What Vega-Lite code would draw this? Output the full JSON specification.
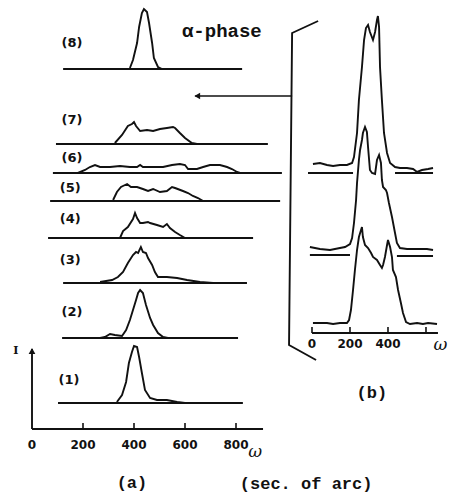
{
  "$schema": "https://vega.github.io/schema/vega-lite/v6.json",
  "width": 449,
  "height": 495,
  "autosize": "none",
  "padding": 0,
  "background": "white",
  "config": {"view": {"stroke": null}},
  "datasets": {
    "curvesA": [
      {"c":"8","w":384,"I":361},{"c":"8","w":396,"I":369},{"c":"8","w":412,"I":386},{"c":"8","w":420,"I":402},{"c":"8","w":431,"I":416},{"c":"8","w":439,"I":420},{"c":"8","w":451,"I":417},{"c":"8","w":459,"I":406},{"c":"8","w":471,"I":386},{"c":"8","w":478,"I":371},{"c":"8","w":494,"I":362},{"c":"8","w":510,"I":360},
      {"c":"7","w":325,"I":286},{"c":"7","w":353,"I":294},{"c":"7","w":376,"I":303},{"c":"7","w":392,"I":305},{"c":"7","w":400,"I":307},{"c":"7","w":408,"I":303},{"c":"7","w":424,"I":298},{"c":"7","w":451,"I":299},{"c":"7","w":475,"I":298},{"c":"7","w":502,"I":300},{"c":"7","w":529,"I":301},{"c":"7","w":553,"I":302},{"c":"7","w":561,"I":301},{"c":"7","w":580,"I":296},{"c":"7","w":600,"I":291},{"c":"7","w":627,"I":286},{"c":"7","w":647,"I":285},
      {"c":"6","w":180,"I":256},{"c":"6","w":208,"I":259},{"c":"6","w":227,"I":262},{"c":"6","w":247,"I":264},{"c":"6","w":267,"I":262},{"c":"6","w":306,"I":262},{"c":"6","w":345,"I":263},{"c":"6","w":384,"I":262},{"c":"6","w":412,"I":262},{"c":"6","w":424,"I":264},{"c":"6","w":435,"I":262},{"c":"6","w":475,"I":262},{"c":"6","w":514,"I":262},{"c":"6","w":549,"I":264},{"c":"6","w":580,"I":265},{"c":"6","w":600,"I":264},{"c":"6","w":612,"I":260},{"c":"6","w":647,"I":260},{"c":"6","w":671,"I":262},{"c":"6","w":698,"I":264},{"c":"6","w":737,"I":264},{"c":"6","w":765,"I":262},{"c":"6","w":784,"I":260},{"c":"6","w":804,"I":257},{"c":"6","w":816,"I":256},
      {"c":"5","w":318,"I":229},{"c":"5","w":333,"I":237},{"c":"5","w":349,"I":242},{"c":"5","w":373,"I":245},{"c":"5","w":388,"I":242},{"c":"5","w":412,"I":242},{"c":"5","w":435,"I":240},{"c":"5","w":455,"I":238},{"c":"5","w":475,"I":240},{"c":"5","w":502,"I":237},{"c":"5","w":529,"I":238},{"c":"5","w":549,"I":242},{"c":"5","w":561,"I":241},{"c":"5","w":592,"I":238},{"c":"5","w":612,"I":236},{"c":"5","w":631,"I":233},{"c":"5","w":651,"I":231},{"c":"5","w":671,"I":228},
      {"c":"4","w":345,"I":191},{"c":"4","w":357,"I":198},{"c":"4","w":376,"I":202},{"c":"4","w":396,"I":210},{"c":"4","w":404,"I":216},{"c":"4","w":412,"I":211},{"c":"4","w":424,"I":206},{"c":"4","w":435,"I":206},{"c":"4","w":455,"I":207},{"c":"4","w":463,"I":206},{"c":"4","w":490,"I":204},{"c":"4","w":514,"I":202},{"c":"4","w":529,"I":205},{"c":"4","w":541,"I":201},{"c":"4","w":561,"I":197},{"c":"4","w":580,"I":194},{"c":"4","w":600,"I":191},
      {"c":"3","w":267,"I":147},{"c":"3","w":314,"I":149},{"c":"3","w":337,"I":152},{"c":"3","w":357,"I":157},{"c":"3","w":376,"I":166},{"c":"3","w":396,"I":174},{"c":"3","w":408,"I":177},{"c":"3","w":416,"I":176},{"c":"3","w":427,"I":182},{"c":"3","w":435,"I":177},{"c":"3","w":447,"I":176},{"c":"3","w":455,"I":171},{"c":"3","w":471,"I":164},{"c":"3","w":482,"I":157},{"c":"3","w":494,"I":152},{"c":"3","w":529,"I":152},{"c":"3","w":569,"I":151},{"c":"3","w":608,"I":149},{"c":"3","w":659,"I":147},{"c":"3","w":710,"I":146},
      {"c":"2","w":267,"I":91},{"c":"2","w":286,"I":92},{"c":"2","w":306,"I":95},{"c":"2","w":325,"I":94},{"c":"2","w":353,"I":93},{"c":"2","w":369,"I":99},{"c":"2","w":384,"I":109},{"c":"2","w":396,"I":119},{"c":"2","w":408,"I":129},{"c":"2","w":416,"I":136},{"c":"2","w":424,"I":139},{"c":"2","w":435,"I":136},{"c":"2","w":447,"I":124},{"c":"2","w":463,"I":111},{"c":"2","w":475,"I":104},{"c":"2","w":494,"I":96},{"c":"2","w":514,"I":92},{"c":"2","w":533,"I":91},
      {"c":"1","w":333,"I":27},{"c":"1","w":353,"I":34},{"c":"1","w":369,"I":47},{"c":"1","w":380,"I":66},{"c":"1","w":392,"I":77},{"c":"1","w":400,"I":83},{"c":"1","w":412,"I":82},{"c":"1","w":420,"I":72},{"c":"1","w":431,"I":56},{"c":"1","w":443,"I":39},{"c":"1","w":463,"I":31},{"c":"1","w":490,"I":29},{"c":"1","w":529,"I":29},{"c":"1","w":569,"I":27},{"c":"1","w":600,"I":26}
    ],
    "baseA": [
      {"c":"8","w0":122,"w1":824,"I":360},
      {"c":"7","w0":94,"w1":925,"I":285},
      {"c":"6","w0":82,"w1":980,"I":256},
      {"c":"5","w0":71,"w1":973,"I":228},
      {"c":"4","w0":63,"w1":867,"I":191},
      {"c":"3","w0":122,"w1":843,"I":146},
      {"c":"2","w0":118,"w1":808,"I":91},
      {"c":"1","w0":102,"w1":827,"I":26},
      {"c":"axis","w0":0,"w1":906,"I":0}
    ],
    "labelsA": [
      {"t":"(8)","w":157,"I":386},
      {"t":"(7)","w":157,"I":309},
      {"t":"(6)","w":157,"I":271},
      {"t":"(5)","w":150,"I":241},
      {"t":"(4)","w":150,"I":210},
      {"t":"(3)","w":150,"I":169},
      {"t":"(2)","w":157,"I":117},
      {"t":"(1)","w":145,"I":49}
    ],
    "ticksA": [
      {"w":0,"t":"0"},{"w":200,"t":"200"},{"w":400,"t":"400"},{"w":600,"t":"600"},{"w":800,"t":"800"}
    ],
    "bracket": [
      {"o":1,"w":1122,"I":408},{"o":2,"w":1020,"I":396},{"o":3,"w":1008,"I":84},{"o":4,"w":1114,"I":69}
    ],
    "curvesB": [
      {"c":"b1","w":5,"I":265},{"c":"b1","w":42,"I":266},{"c":"b1","w":79,"I":264},{"c":"b1","w":111,"I":263},{"c":"b1","w":147,"I":264},{"c":"b1","w":184,"I":264},{"c":"b1","w":211,"I":266},{"c":"b1","w":221,"I":272},{"c":"b1","w":237,"I":296},{"c":"b1","w":247,"I":329},{"c":"b1","w":263,"I":362},{"c":"b1","w":274,"I":389},{"c":"b1","w":284,"I":401},{"c":"b1","w":295,"I":404},{"c":"b1","w":305,"I":397},{"c":"b1","w":321,"I":389},{"c":"b1","w":332,"I":397},{"c":"b1","w":342,"I":409},{"c":"b1","w":347,"I":413},{"c":"b1","w":353,"I":402},{"c":"b1","w":358,"I":362},{"c":"b1","w":368,"I":329},{"c":"b1","w":379,"I":296},{"c":"b1","w":395,"I":276},{"c":"b1","w":411,"I":266},{"c":"b1","w":437,"I":262},{"c":"b1","w":463,"I":261},{"c":"b1","w":500,"I":261},{"c":"b1","w":532,"I":260},{"c":"b1","w":553,"I":257},{"c":"b1","w":579,"I":259},{"c":"b1","w":611,"I":260},{"c":"b1","w":637,"I":261},
      {"c":"b2","w":-11,"I":182},{"c":"b2","w":42,"I":180},{"c":"b2","w":95,"I":179},{"c":"b2","w":147,"I":181},{"c":"b2","w":174,"I":182},{"c":"b2","w":200,"I":185},{"c":"b2","w":211,"I":191},{"c":"b2","w":221,"I":206},{"c":"b2","w":232,"I":229},{"c":"b2","w":237,"I":246},{"c":"b2","w":247,"I":269},{"c":"b2","w":253,"I":279},{"c":"b2","w":263,"I":289},{"c":"b2","w":268,"I":296},{"c":"b2","w":279,"I":302},{"c":"b2","w":289,"I":297},{"c":"b2","w":295,"I":282},{"c":"b2","w":305,"I":259},{"c":"b2","w":316,"I":256},{"c":"b2","w":332,"I":255},{"c":"b2","w":342,"I":269},{"c":"b2","w":353,"I":274},{"c":"b2","w":363,"I":266},{"c":"b2","w":368,"I":249},{"c":"b2","w":374,"I":242},{"c":"b2","w":389,"I":239},{"c":"b2","w":395,"I":236},{"c":"b2","w":405,"I":226},{"c":"b2","w":421,"I":212},{"c":"b2","w":437,"I":196},{"c":"b2","w":447,"I":186},{"c":"b2","w":463,"I":181},{"c":"b2","w":500,"I":180},{"c":"b2","w":553,"I":180},{"c":"b2","w":605,"I":180},{"c":"b2","w":637,"I":179},
      {"c":"b3","w":5,"I":106},{"c":"b3","w":42,"I":106},{"c":"b3","w":79,"I":106},{"c":"b3","w":111,"I":105},{"c":"b3","w":147,"I":106},{"c":"b3","w":184,"I":106},{"c":"b3","w":195,"I":109},{"c":"b3","w":205,"I":119},{"c":"b3","w":216,"I":139},{"c":"b3","w":226,"I":159},{"c":"b3","w":237,"I":179},{"c":"b3","w":247,"I":192},{"c":"b3","w":258,"I":199},{"c":"b3","w":263,"I":202},{"c":"b3","w":268,"I":192},{"c":"b3","w":279,"I":184},{"c":"b3","w":295,"I":181},{"c":"b3","w":311,"I":176},{"c":"b3","w":321,"I":172},{"c":"b3","w":342,"I":169},{"c":"b3","w":358,"I":164},{"c":"b3","w":368,"I":161},{"c":"b3","w":374,"I":164},{"c":"b3","w":384,"I":172},{"c":"b3","w":395,"I":184},{"c":"b3","w":400,"I":189},{"c":"b3","w":411,"I":182},{"c":"b3","w":421,"I":172},{"c":"b3","w":426,"I":159},{"c":"b3","w":442,"I":152},{"c":"b3","w":453,"I":139},{"c":"b3","w":468,"I":126},{"c":"b3","w":479,"I":116},{"c":"b3","w":495,"I":107},{"c":"b3","w":516,"I":105},{"c":"b3","w":553,"I":106},{"c":"b3","w":584,"I":105},{"c":"b3","w":611,"I":106},{"c":"b3","w":658,"I":105}
    ],
    "baseB": [
      {"w0":-21,"w1":216,"I":256},
      {"w0":437,"w1":637,"I":256},
      {"w0":-11,"w1":200,"I":174},
      {"w0":447,"w1":637,"I":173},
      {"w0":0,"w1":663,"I":96}
    ],
    "ticksB": [
      {"w":0,"t":"0"},{"w":200,"t":"200"},{"w":400,"t":"400"},{"w":600,"t":""}
    ]
  },
  "layer": [
    {
      "layer": [
        {
          "data": {"name": "baseA"},
          "mark": {"type": "rule", "color": "#111", "strokeWidth": 1.9},
          "encoding": {
            "x": {"field": "w0", "type": "quantitative", "scale": {"domain": [-125.5, 1635.3], "nice": false, "zero": false}, "axis": null},
            "x2": {"field": "w1"},
            "y": {"field": "I", "type": "quantitative", "scale": {"domain": [-66, 429], "nice": false, "zero": false}, "axis": null}
          }
        },
        {
          "data": {"name": "curvesA"},
          "mark": {"type": "line", "color": "#111", "strokeWidth": 1.9, "interpolate": "linear"},
          "encoding": {
            "x": {"field": "w", "type": "quantitative", "scale": {"domain": [-125.5, 1635.3], "nice": false, "zero": false}, "axis": null},
            "y": {"field": "I", "type": "quantitative", "scale": {"domain": [-66, 429], "nice": false, "zero": false}, "axis": null},
            "detail": {"field": "c"}
          }
        },
        {
          "data": {"name": "ticksA"},
          "transform": [{"filter": "datum.w > 0"}],
          "mark": {"type": "rule", "color": "#111", "strokeWidth": 1.6},
          "encoding": {
            "x": {"field": "w", "type": "quantitative", "scale": {"domain": [-125.5, 1635.3], "nice": false, "zero": false}, "axis": null},
            "y": {"datum": -1, "type": "quantitative", "scale": {"domain": [-66, 429], "nice": false, "zero": false}, "axis": null},
            "y2": {"datum": 6}
          }
        },
        {
          "data": {"name": "ticksA"},
          "mark": {"type": "text", "font": "DejaVu Sans", "fontWeight": "bold", "fontSize": 12, "color": "#111", "baseline": "middle", "align": "center"},
          "encoding": {
            "x": {"field": "w", "type": "quantitative", "scale": {"domain": [-125.5, 1635.3], "nice": false, "zero": false}, "axis": null},
            "y": {"datum": -16, "type": "quantitative", "scale": {"domain": [-66, 429], "nice": false, "zero": false}, "axis": null},
            "text": {"field": "t"}
          }
        },
        {
          "data": {"values": [{"w": 0, "I0": 0, "I1": 80}]},
          "mark": {"type": "rule", "color": "#111", "strokeWidth": 1.9},
          "encoding": {
            "x": {"field": "w", "type": "quantitative", "scale": {"domain": [-125.5, 1635.3], "nice": false, "zero": false}, "axis": null},
            "y": {"field": "I0", "type": "quantitative", "scale": {"domain": [-66, 429], "nice": false, "zero": false}, "axis": null},
            "y2": {"field": "I1"}
          }
        },
        {
          "data": {"values": [{"w": 0, "I": 78}]},
          "mark": {"type": "point", "shape": "triangle-up", "filled": true, "color": "#111", "size": 45, "opacity": 1},
          "encoding": {
            "x": {"field": "w", "type": "quantitative", "scale": {"domain": [-125.5, 1635.3], "nice": false, "zero": false}, "axis": null},
            "y": {"field": "I", "type": "quantitative", "scale": {"domain": [-66, 429], "nice": false, "zero": false}, "axis": null}
          }
        },
        {
          "data": {"values": [{"w0": 640, "w1": 1020, "I": 333}]},
          "mark": {"type": "rule", "color": "#111", "strokeWidth": 1.6},
          "encoding": {
            "x": {"field": "w0", "type": "quantitative", "scale": {"domain": [-125.5, 1635.3], "nice": false, "zero": false}, "axis": null},
            "x2": {"field": "w1"},
            "y": {"field": "I", "type": "quantitative", "scale": {"domain": [-66, 429], "nice": false, "zero": false}, "axis": null}
          }
        },
        {
          "data": {"values": [{"w": 648, "I": 333}]},
          "mark": {"type": "point", "shape": "triangle-left", "filled": true, "color": "#111", "size": 45, "opacity": 1},
          "encoding": {
            "x": {"field": "w", "type": "quantitative", "scale": {"domain": [-125.5, 1635.3], "nice": false, "zero": false}, "axis": null},
            "y": {"field": "I", "type": "quantitative", "scale": {"domain": [-66, 429], "nice": false, "zero": false}, "axis": null}
          }
        },
        {
          "data": {"name": "bracket"},
          "mark": {"type": "line", "color": "#111", "strokeWidth": 1.9},
          "encoding": {
            "x": {"field": "w", "type": "quantitative", "scale": {"domain": [-125.5, 1635.3], "nice": false, "zero": false}, "axis": null},
            "y": {"field": "I", "type": "quantitative", "scale": {"domain": [-66, 429], "nice": false, "zero": false}, "axis": null},
            "order": {"field": "o"}
          }
        },
        {
          "data": {"name": "labelsA"},
          "mark": {"type": "text", "font": "DejaVu Sans", "fontWeight": "bold", "fontSize": 13, "color": "#111", "baseline": "middle", "align": "center"},
          "encoding": {
            "x": {"field": "w", "type": "quantitative", "scale": {"domain": [-125.5, 1635.3], "nice": false, "zero": false}, "axis": null},
            "y": {"field": "I", "type": "quantitative", "scale": {"domain": [-66, 429], "nice": false, "zero": false}, "axis": null},
            "text": {"field": "t"}
          }
        },
        {
          "data": {"values": [{"t": "α-phase", "w": 588, "I": 398}]},
          "mark": {"type": "text", "font": "Liberation Mono", "fontWeight": "bold", "fontSize": 19, "color": "#111", "baseline": "middle", "align": "left"},
          "encoding": {
            "x": {"field": "w", "type": "quantitative", "scale": {"domain": [-125.5, 1635.3], "nice": false, "zero": false}, "axis": null},
            "y": {"field": "I", "type": "quantitative", "scale": {"domain": [-66, 429], "nice": false, "zero": false}, "axis": null},
            "text": {"field": "t"}
          }
        },
        {
          "data": {"values": [{"t": "(a)", "w": 392, "I": -54}, {"t": "(sec. of arc)", "w": 1075, "I": -55}, {"t": "(b)", "w": 1333, "I": 36}]},
          "mark": {"type": "text", "font": "Liberation Mono", "fontWeight": "bold", "fontSize": 17, "color": "#111", "baseline": "middle", "align": "center"},
          "encoding": {
            "x": {"field": "w", "type": "quantitative", "scale": {"domain": [-125.5, 1635.3], "nice": false, "zero": false}, "axis": null},
            "y": {"field": "I", "type": "quantitative", "scale": {"domain": [-66, 429], "nice": false, "zero": false}, "axis": null},
            "text": {"field": "t"}
          }
        },
        {
          "data": {"values": [{"t": "ω", "w": 875, "I": -23}, {"t": "ω", "w": 1602, "I": 84}]},
          "mark": {"type": "text", "font": "DejaVu Serif", "fontStyle": "italic", "fontSize": 17, "color": "#111", "baseline": "middle", "align": "center"},
          "encoding": {
            "x": {"field": "w", "type": "quantitative", "scale": {"domain": [-125.5, 1635.3], "nice": false, "zero": false}, "axis": null},
            "y": {"field": "I", "type": "quantitative", "scale": {"domain": [-66, 429], "nice": false, "zero": false}, "axis": null},
            "text": {"field": "t"}
          }
        },
        {
          "data": {"values": [{"t": "I", "w": -63, "I": 78}]},
          "mark": {"type": "text", "font": "DejaVu Serif", "fontWeight": "bold", "fontSize": 11, "color": "#111", "baseline": "middle", "align": "center"},
          "encoding": {
            "x": {"field": "w", "type": "quantitative", "scale": {"domain": [-125.5, 1635.3], "nice": false, "zero": false}, "axis": null},
            "y": {"field": "I", "type": "quantitative", "scale": {"domain": [-66, 429], "nice": false, "zero": false}, "axis": null},
            "text": {"field": "t"}
          }
        }
      ]
    },
    {
      "layer": [
        {
          "data": {"name": "baseB"},
          "mark": {"type": "rule", "color": "#111", "strokeWidth": 1.9},
          "encoding": {
            "x": {"field": "w0", "type": "quantitative", "scale": {"domain": [-1642.1, 721.1], "nice": false, "zero": false}, "axis": null},
            "x2": {"field": "w1"},
            "y": {"field": "I", "type": "quantitative", "scale": {"domain": [-66, 429], "nice": false, "zero": false}, "axis": null}
          }
        },
        {
          "data": {"name": "curvesB"},
          "mark": {"type": "line", "color": "#111", "strokeWidth": 1.9},
          "encoding": {
            "x": {"field": "w", "type": "quantitative", "scale": {"domain": [-1642.1, 721.1], "nice": false, "zero": false}, "axis": null},
            "y": {"field": "I", "type": "quantitative", "scale": {"domain": [-66, 429], "nice": false, "zero": false}, "axis": null},
            "detail": {"field": "c"}
          }
        },
        {
          "data": {"name": "ticksB"},
          "mark": {"type": "rule", "color": "#111", "strokeWidth": 1.6},
          "encoding": {
            "x": {"field": "w", "type": "quantitative", "scale": {"domain": [-1642.1, 721.1], "nice": false, "zero": false}, "axis": null},
            "y": {"datum": 96, "type": "quantitative", "scale": {"domain": [-66, 429], "nice": false, "zero": false}, "axis": null},
            "y2": {"datum": 102}
          }
        },
        {
          "data": {"name": "ticksB"},
          "mark": {"type": "text", "font": "DejaVu Sans", "fontWeight": "bold", "fontSize": 12, "color": "#111", "baseline": "middle", "align": "center"},
          "encoding": {
            "x": {"field": "w", "type": "quantitative", "scale": {"domain": [-1642.1, 721.1], "nice": false, "zero": false}, "axis": null},
            "y": {"datum": 85, "type": "quantitative", "scale": {"domain": [-66, 429], "nice": false, "zero": false}, "axis": null},
            "text": {"field": "t"}
          }
        }
      ]
    }
  ],
  "resolve": {"scale": {"x": "independent"}}
}
